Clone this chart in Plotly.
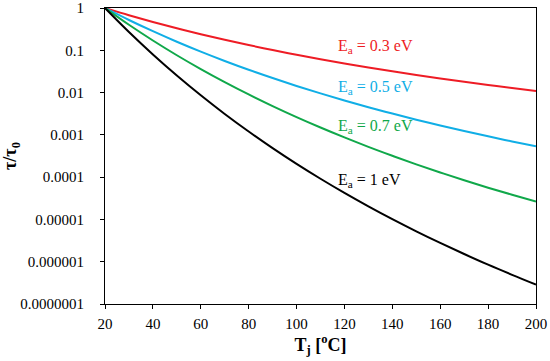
import plotly.graph_objects as go

# Junction temperature (°C)
Tj = [20, 30, 40, 50, 60, 70, 80, 90, 100, 110, 120, 130, 140, 150, 160, 170, 180, 190, 200]

# Normalised lifetime tau/tau0
tau_03 = [1, 0.676, 0.4684, 0.332, 0.2402, 0.1772, 0.1330, 0.1014, 0.0784, 0.0614, 0.0488,
          0.0392, 0.03177, 0.02603, 0.02153, 0.01795, 0.0151, 0.01279, 0.01091]
tau_05 = [1, 0.5205, 0.2825, 0.1592, 0.0929, 0.0559, 0.0346, 0.02203, 0.01436, 0.00957, 0.00651,
          0.00451, 0.00319, 0.002286, 0.001666, 0.001231, 9.22e-4, 6.99e-4, 5.37e-4]
tau_07 = [1, 0.401, 0.1703, 0.0763, 0.0359, 0.01764, 0.00902, 0.00479, 0.00263, 0.00149, 8.69e-4,
          5.20e-4, 3.20e-4, 2.01e-4, 1.29e-4, 8.44e-5, 5.63e-5, 3.83e-5, 2.64e-5]
tau_10 = [1, 0.2710, 0.0798, 0.02535, 0.00863, 0.003126, 0.0012, 4.85e-4, 2.06e-4, 9.16e-5, 4.24e-5,
          2.04e-5, 1.015e-5, 5.23e-6, 2.78e-6, 1.52e-6, 8.5e-7, 4.9e-7, 2.88e-7]

series_names = ["0.3", "0.5", "0.7", "1"]
y_tickvals = [1, 0.1, 0.01, 0.001, 0.0001, 0.00001, 0.000001, 0.0000001]
y_ticktext = ["1", "0.1", "0.01", "0.001", "0.0001", "0.00001", "0.000001", "0.0000001"]
x_tickvals = [20, 40, 60, 80, 100, 120, 140, 160, 180, 200]

colors = ["#ee1c25", "#10aee6", "#10a84a", "#000000"]
label_y = [-0.9, -1.89, -2.81, -4.07]
series = [tau_03, tau_05, tau_07, tau_10]

FONT = "Liberation Serif, Times New Roman, serif"
tickfont = dict(family=FONT, size=15, color="black")

fig = go.Figure()
for name, ys, c in zip(series_names, series, colors):
    fig.add_trace(go.Scatter(x=Tj, y=ys, mode="lines", line=dict(color=c, width=2, shape="spline"),
                             name=name, showlegend=False))

for name, c, ly in zip(series_names, colors, label_y):
    fig.add_annotation(x=116.5, y=ly, xref="x", yref="y", xanchor="left", yanchor="middle",
                       text=f"E<sub>a</sub> = {name} eV", showarrow=False,
                       font=dict(family=FONT, size=16, color=c))

fig.update_layout(
    width=550, height=361,
    margin=dict(l=105, r=14, t=8, b=57),
    plot_bgcolor="white", paper_bgcolor="white",
    font=dict(family=FONT, size=15, color="black"),
)
fig.update_xaxes(range=[20, 200], tickvals=x_tickvals, showgrid=False, zeroline=False,
                 showline=True, linecolor="black", linewidth=1, mirror=True,
                 ticks="outside", ticklen=4, tickcolor="black", tickfont=tickfont, automargin=False,
                 ticklabelstandoff=2,
                 title=dict(text="<b>T<sub>j</sub> [<sup>o</sup>C]</b>", font=dict(family=FONT, size=18), standoff=4))
fig.update_yaxes(type="log", range=[-7, 0], tickvals=y_tickvals, ticktext=y_ticktext,
                 showgrid=False, zeroline=False,
                 showline=True, linecolor="black", linewidth=1, mirror=True,
                 ticks="outside", ticklen=4, tickcolor="black", tickfont=tickfont, automargin=False,
                 ticklabelstandoff=13,
                 title=dict(text="<b>τ/τ<sub>0</sub></b>", font=dict(family=FONT, size=18), standoff=8))

fig.write_html("out.html", config={"displayModeBar": False},
               post_script="document.body.style.margin='0';document.body.style.overflow='hidden';")
